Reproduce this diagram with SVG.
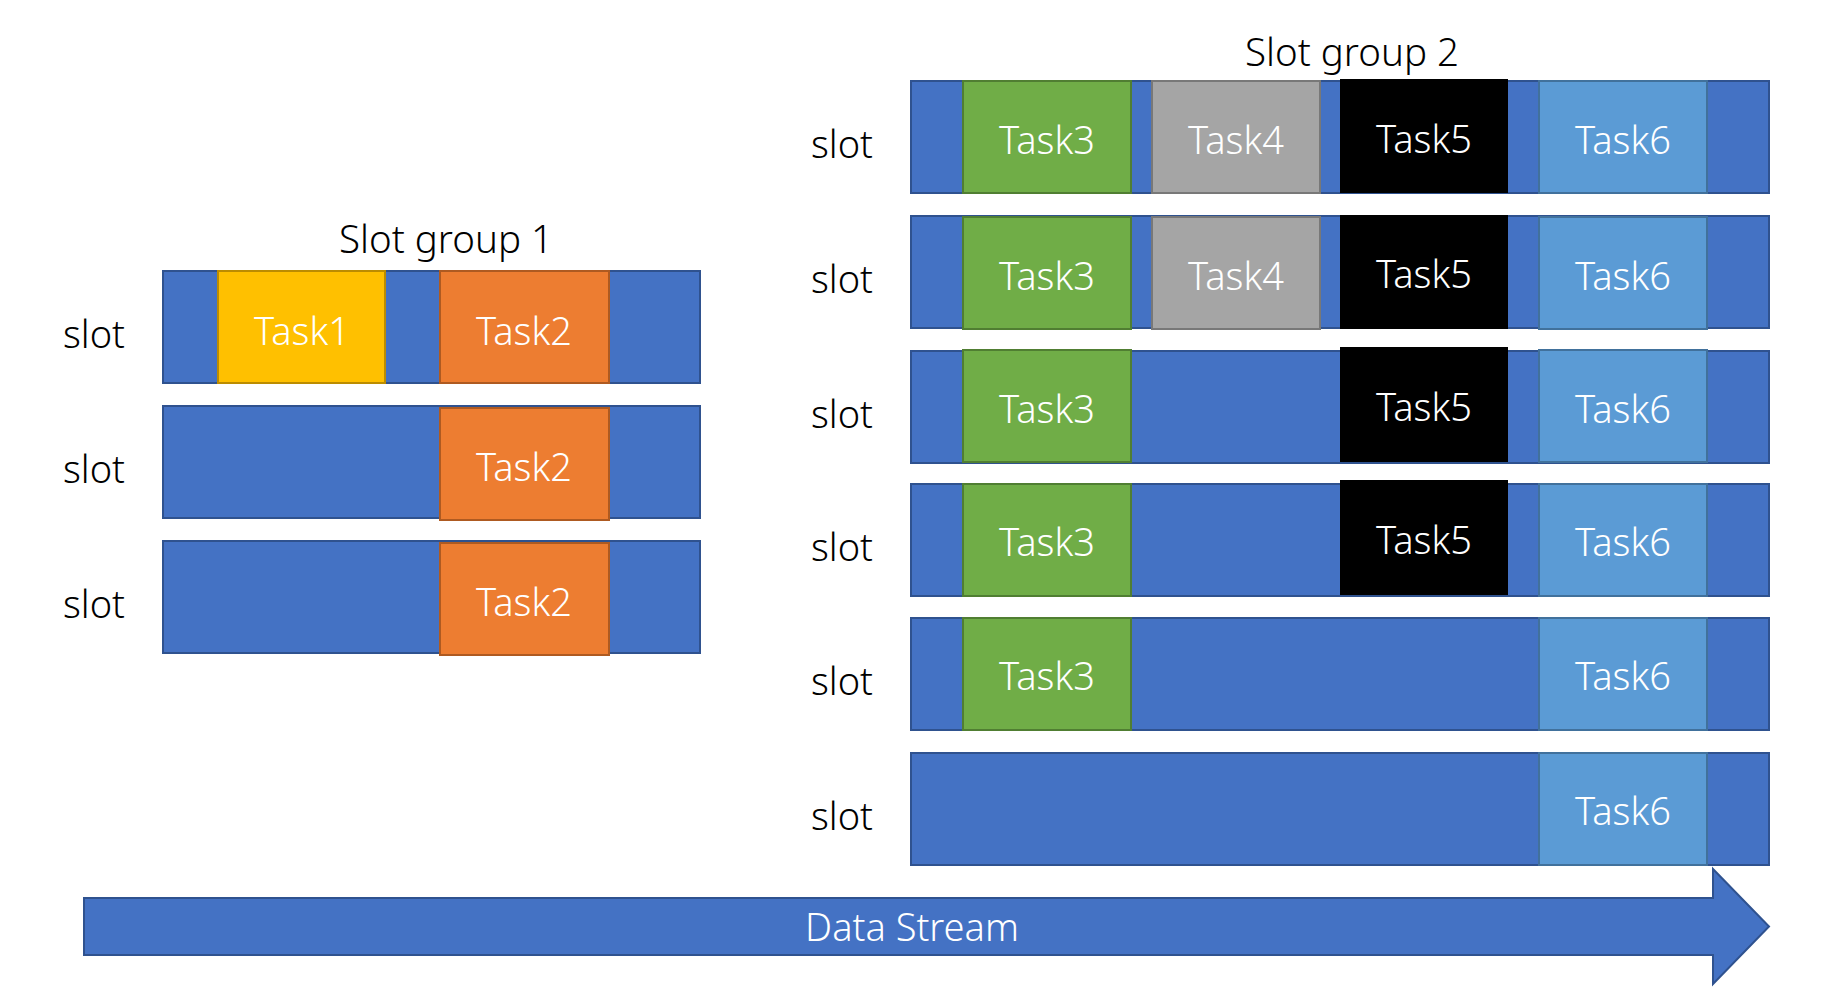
<svg xmlns="http://www.w3.org/2000/svg" width="1839" height="1008" viewBox="0 0 1839 1008">
<style>
.slot{fill:#4472C4;stroke:#2F528F;stroke-width:2}
.t1{fill:#FFC000;stroke:#BC8C00;stroke-width:2}
.t2{fill:#ED7D31;stroke:#AE5A21;stroke-width:2}
.t3{fill:#70AD47;stroke:#507E32;stroke-width:2}
.t4{fill:#A5A5A5;stroke:#787878;stroke-width:2}
.t5{fill:#000000}
.t6{fill:#5B9BD5;stroke:#41719C;stroke-width:2}
text{font-family:"Noto Sans","Open Sans","Liberation Sans",sans-serif;font-size:38px;font-weight:300}
.lbl{fill:#000}
.tt{fill:#fff;text-anchor:middle}
.title{fill:#000;text-anchor:middle;font-size:38.5px}
</style>
<rect width="1839" height="1008" fill="#fff"/>
<g id="title1"><text class="title" x="446" y="253">Slot group 1</text></g>
<g id="title2"><text class="title" x="1352" y="66">Slot group 2</text></g>

<g id="g1-row1">
<rect class="slot" x="163" y="271" width="537" height="112"/>
<rect class="t1" x="218" y="271" width="167" height="112"/>
<rect class="t2" x="440" y="271" width="169" height="112"/>
<text class="lbl" x="63" y="348">slot</text>
<text class="tt" x="302" y="345">Task1</text>
<text class="tt" x="524" y="345">Task2</text>
</g>
<g id="g1-row2">
<rect class="slot" x="163" y="406" width="537" height="112"/>
<rect class="t2" x="440" y="408" width="169" height="112"/>
<text class="lbl" x="63" y="483">slot</text>
<text class="tt" x="524" y="481">Task2</text>
</g>
<g id="g1-row3">
<rect class="slot" x="163" y="541" width="537" height="112"/>
<rect class="t2" x="440" y="543" width="169" height="112"/>
<text class="lbl" x="63" y="618">slot</text>
<text class="tt" x="524" y="616">Task2</text>
</g>

<g id="g2-row1">
<rect class="slot" x="911" y="81" width="858" height="112"/>
<rect class="t3" x="963" y="81" width="168" height="112"/>
<rect class="t4" x="1152" y="81" width="168" height="112"/>
<rect class="t5" x="1340" y="79" width="168" height="114"/>
<rect class="t6" x="1539" y="81" width="168" height="112"/>
<text class="lbl" x="811" y="158">slot</text>
<text class="tt" x="1047" y="154">Task3</text>
<text class="tt" x="1236" y="154">Task4</text>
<text class="tt" x="1424" y="153">Task5</text>
<text class="tt" x="1623" y="154">Task6</text>
</g>
<g id="g2-row2">
<rect class="slot" x="911" y="216" width="858" height="112"/>
<rect class="t3" x="963" y="217" width="168" height="112"/>
<rect class="t4" x="1152" y="217" width="168" height="112"/>
<rect class="t5" x="1340" y="215" width="168" height="114"/>
<rect class="t6" x="1539" y="217" width="168" height="112"/>
<text class="lbl" x="811" y="293">slot</text>
<text class="tt" x="1047" y="290">Task3</text>
<text class="tt" x="1236" y="290">Task4</text>
<text class="tt" x="1424" y="288">Task5</text>
<text class="tt" x="1623" y="290">Task6</text>
</g>
<g id="g2-row3">
<rect class="slot" x="911" y="351" width="858" height="112"/>
<rect class="t3" x="963" y="350" width="168" height="112"/>
<rect class="t5" x="1340" y="347" width="168" height="115"/>
<rect class="t6" x="1539" y="350" width="168" height="112"/>
<text class="lbl" x="811" y="428">slot</text>
<text class="tt" x="1047" y="423">Task3</text>
<text class="tt" x="1424" y="421">Task5</text>
<text class="tt" x="1623" y="423">Task6</text>
</g>
<g id="g2-row4">
<rect class="slot" x="911" y="484" width="858" height="112"/>
<rect class="t3" x="963" y="484" width="168" height="112"/>
<rect class="t5" x="1340" y="480" width="168" height="115"/>
<rect class="t6" x="1539" y="484" width="168" height="112"/>
<text class="lbl" x="811" y="561">slot</text>
<text class="tt" x="1047" y="556">Task3</text>
<text class="tt" x="1424" y="554">Task5</text>
<text class="tt" x="1623" y="556">Task6</text>
</g>
<g id="g2-row5">
<rect class="slot" x="911" y="618" width="858" height="112"/>
<rect class="t3" x="963" y="618" width="168" height="112"/>
<rect class="t6" x="1539" y="618" width="168" height="112"/>
<text class="lbl" x="811" y="695">slot</text>
<text class="tt" x="1047" y="690">Task3</text>
<text class="tt" x="1623" y="690">Task6</text>
</g>
<g id="g2-row6">
<rect class="slot" x="911" y="753" width="858" height="112"/>
<rect class="t6" x="1539" y="753" width="168" height="112"/>
<text class="lbl" x="811" y="830">slot</text>
<text class="tt" x="1623" y="825">Task6</text>
</g>

<g id="connectors">
<g id="data-stream">
<polygon class="slot" points="84,898 1713,898 1713,869 1769,926.5 1713,984 1713,955 84,955"/>
<text class="tt" x="912" y="941">Data Stream</text>
</g>
</g>
</svg>
